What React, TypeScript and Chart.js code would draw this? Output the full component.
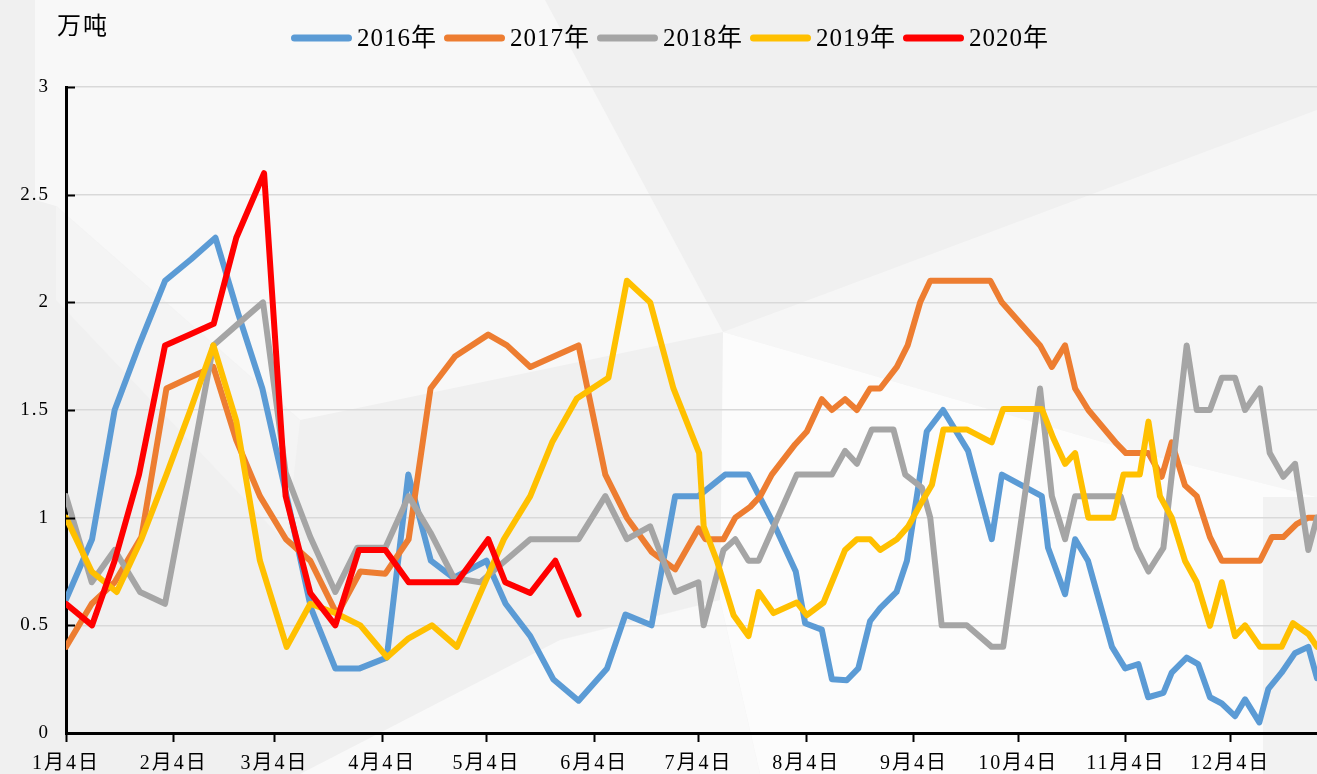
import React, { useEffect, useRef } from "react";
import { Chart, registerables } from "chart.js";

Chart.register(...registerables);

// ---- axis ticks (days counted from 1月4日) ----
const tickDays = [0, 31, 60, 91, 121, 152, 182, 213, 244, 274, 305, 335];
const tickLabels = ["1月4日", "2月4日", "3月4日", "4月4日", "5月4日", "6月4日", "7月4日", "8月4日", "9月4日", "10月4日", "11月4日", "12月4日"];
const yTickValues = [0, 0.5, 1, 1.5, 2, 2.5, 3];
const unitLabel = "万吨";

const seriesNames = ["2016年", "2017年", "2018年", "2019年", "2020年"];
const seriesColors = ["#5B9BD5", "#ED7D31", "#A5A5A5", "#FFC000", "#FF0000"];

// ---- data ----
const days2016 = [0, 7.5, 14, 21, 28.5, 36, 43, 49.5, 56.5, 63.5, 70.5, 77.5, 84.5, 92.3, 98.5, 105, 111.5, 121, 126.5, 133.6, 140.2, 147.5, 155.7, 161, 168.5, 175.3, 182, 189.7, 196.3, 204, 210, 212.7, 217.5, 220.4, 224.7, 228, 231.4, 234.3, 239, 242, 247.7, 252.4, 259.6, 266.4, 269.3, 280.8, 282.6, 287.5, 290.4, 294.1, 301, 304.8, 308.6, 311.4, 315.8, 318.2, 322.5, 325.8, 329.2, 332.6, 336.4, 339.3, 343.4, 346, 349.8, 353.6, 357.5, 360];
const vals2016 = [0.62, 0.9, 1.5, 1.8, 2.1, 2.2, 2.3, 1.95, 1.6, 1.1, 0.58, 0.3, 0.3, 0.35, 1.2, 0.8, 0.72, 0.8, 0.6, 0.45, 0.25, 0.15, 0.3, 0.55, 0.5, 1.1, 1.1, 1.2, 1.2, 0.96, 0.75, 0.51, 0.48, 0.25, 0.245, 0.3, 0.52, 0.58, 0.655, 0.8, 1.4, 1.5, 1.31, 0.9, 1.2, 1.1, 0.86, 0.645, 0.9, 0.8, 0.4, 0.3, 0.32, 0.166, 0.186, 0.28, 0.35, 0.32, 0.166, 0.137, 0.078, 0.156, 0.049, 0.205, 0.28, 0.37, 0.4, 0.254];

const days2017 = [0, 7.4, 14, 21.7, 28.9, 35.5, 42.4, 49, 55.8, 63.3, 70.3, 78, 84.7, 91.9, 98.6, 104.9, 112, 121.5, 126.9, 133.6, 140.5, 147.5, 155.2, 161.4, 168.6, 175.3, 182, 184, 189.2, 192.6, 196.9, 199.8, 203.1, 209.8, 213.2, 217.5, 220.4, 224.2, 227.6, 231.4, 234.3, 239.1, 242.2, 245.8, 248.7, 266, 269.3, 280.3, 283.7, 287.5, 290.4, 294.2, 302, 305, 311.5, 315.3, 318.2, 322, 325.4, 329.2, 332.6, 343.6, 347, 350.3, 354.1, 357.5, 360];
const vals2017 = [0.4, 0.6, 0.7, 0.91, 1.6, 1.65, 1.7, 1.36, 1.1, 0.9, 0.8, 0.55, 0.75, 0.74, 0.9, 1.6, 1.75, 1.85, 1.8, 1.7, 1.75, 1.8, 1.2, 1.0, 0.84, 0.76, 0.95, 0.9, 0.9, 1.0, 1.05, 1.1, 1.2, 1.34, 1.4, 1.55, 1.5, 1.55, 1.5, 1.6, 1.6, 1.7, 1.8, 2.0, 2.1, 2.1, 2.0, 1.8, 1.7, 1.8, 1.6, 1.5, 1.35, 1.3, 1.3, 1.19, 1.35, 1.15, 1.1, 0.91, 0.8, 0.8, 0.91, 0.91, 0.97, 1.0, 1.0];

const days2018 = [0, 7.4, 14, 21.3, 28.5, 35.5, 42.4, 49.5, 56.7, 63.2, 70.3, 77.5, 83.8, 91.9, 98.6, 104.9, 111.6, 119.2, 133.6, 147.5, 155.2, 161.4, 168.1, 175.3, 182, 183.5, 189.2, 192.6, 196.4, 199.3, 210.3, 220.4, 224.2, 227.6, 231.9, 238.1, 241.5, 246.3, 248.7, 252, 259.2, 266.4, 269.7, 280.3, 283.7, 287.5, 290.4, 303.5, 308.1, 311.5, 315.8, 322.5, 325.4, 329.2, 332.6, 336.4, 339.3, 343.6, 346.4, 350.3, 353.7, 357.5, 360];
const vals2018 = [1.1, 0.7, 0.85, 0.655, 0.6, 1.2, 1.8, 1.9, 2.0, 1.21, 0.91, 0.655, 0.86, 0.86, 1.1, 0.93, 0.72, 0.7, 0.9, 0.9, 1.1, 0.9, 0.96, 0.655, 0.7, 0.5, 0.85, 0.9, 0.8, 0.8, 1.2, 1.2, 1.31, 1.25, 1.41, 1.41, 1.2, 1.14, 1.0, 0.5, 0.5, 0.4, 0.4, 1.6, 1.1, 0.9, 1.1, 1.1, 0.86, 0.75, 0.86, 1.8, 1.5, 1.5, 1.65, 1.65, 1.5, 1.6, 1.3, 1.19, 1.25, 0.85, 1.0];

const days2019 = [0, 7.4, 14.6, 21.7, 28.9, 35.8, 42.4, 49, 55.8, 63.5, 70.3, 77.5, 84.7, 92.4, 98.6, 105.3, 112.5, 126, 133.6, 139.9, 147, 156.1, 161.4, 168.1, 174.8, 182.2, 183.5, 187.3, 192.1, 196.4, 199.3, 203.6, 210.3, 213.2, 218, 224.2, 227.6, 231.4, 234.3, 239.1, 242.4, 245.8, 249.2, 252.5, 259.2, 266.4, 269.7, 280.8, 284.1, 287.5, 290.4, 294.2, 301.4, 304.3, 309, 311.5, 314.8, 318.2, 322, 325.4, 329.2, 332.6, 336.4, 339.3, 343.6, 349.8, 353.1, 357.5, 360];
const vals2019 = [1.0, 0.75, 0.655, 0.9, 1.2, 1.5, 1.8, 1.45, 0.8, 0.4, 0.6, 0.557, 0.5, 0.352, 0.44, 0.5, 0.4, 0.9, 1.1, 1.35, 1.553, 1.65, 2.1, 2.0, 1.6, 1.3, 0.96, 0.8, 0.547, 0.45, 0.655, 0.557, 0.606, 0.547, 0.606, 0.85, 0.9, 0.9, 0.85, 0.9, 0.96, 1.06, 1.153, 1.41, 1.41, 1.35, 1.505, 1.505, 1.37, 1.25, 1.3, 1.0, 1.0, 1.2, 1.2, 1.446, 1.1, 1.0, 0.8, 0.7, 0.498, 0.7, 0.45, 0.5, 0.4, 0.4, 0.51, 0.46, 0.4];

const days2020 = [0, 7.5, 14, 21, 28.5, 35.5, 42.5, 49, 57, 63.2, 70.3, 77.5, 84.3, 91.9, 98.6, 105.5, 112.5, 121.5, 126.4, 133.6, 140.8, 147.5];
const vals2020 = [0.6, 0.5, 0.8, 1.2, 1.8, 1.85, 1.9, 2.3, 2.6, 1.1, 0.65, 0.5, 0.85, 0.85, 0.7, 0.7, 0.7, 0.9, 0.7, 0.65, 0.8, 0.55];

const seriesDays = [days2016, days2017, days2018, days2019, days2020];
const seriesVals = [vals2016, vals2017, vals2018, vals2019, vals2020];

const W = 1317;
const H = 774;
const SERIF = '"Liberation Serif", "Noto Sans CJK SC", serif';

const backgroundPlugin = {
  id: "bgShapes",
  beforeDraw(chart: any) {
    const ctx = chart.ctx;
    ctx.save();
    ctx.fillStyle = "#f0f0f0";
    ctx.fillRect(0, 0, W, H);
    const poly = (pts: number[][], color: string) => {
      ctx.beginPath();
      ctx.moveTo(pts[0][0], pts[0][1]);
      for (let i = 1; i < pts.length; i++) ctx.lineTo(pts[i][0], pts[i][1]);
      ctx.closePath();
      ctx.fillStyle = color;
      ctx.fill();
    };
    poly([[35, 0], [545, 0], [723, 332], [300, 420], [56, 206], [35, 200]], "#f8f8f8");
    poly([[56, 206], [300, 420], [286, 543], [56, 300]], "#f4f4f4");
    poly([[723, 332], [1317, 110], [1317, 497], [1130, 450]], "#f6f6f6");
    poly([[723, 332], [1130, 450], [1317, 497], [1317, 774], [760, 774], [720, 600]], "#fcfcfc");
    poly([[1263, 497], [1317, 497], [1317, 774], [1263, 774]], "#f2f2f2");
    poly([[300, 774], [760, 774], [720, 600], [560, 640]], "#f9f9f9");
    ctx.restore();
    // wide glyph spacing like the original font, used by the axis labels
    if ("letterSpacing" in ctx) (ctx as any).letterSpacing = "2px";
  },
};

const decorPlugin = {
  id: "decor",
  afterDraw(chart: any) {
    const ctx = chart.ctx;
    const yScale = chart.scales.y;
    const area = chart.chartArea;
    ctx.save();
    // inward y-axis ticks
    ctx.strokeStyle = "#000";
    ctx.lineWidth = 2;
    yTickValues.forEach((v) => {
      const y = Math.round(yScale.getPixelForValue(v)) + 0.5;
      ctx.beginPath();
      ctx.moveTo(area.left, y);
      ctx.lineTo(area.left + 9, y);
      ctx.stroke();
    });
    // unit label
    if ("letterSpacing" in ctx) (ctx as any).letterSpacing = "2px";
    ctx.fillStyle = "#000";
    ctx.font = '24px "Noto Sans CJK SC"';
    ctx.textBaseline = "middle";
    ctx.textAlign = "left";
    ctx.fillText(unitLabel, 57, 25);
    // legend
    if ("letterSpacing" in ctx) (ctx as any).letterSpacing = "1px";
    ctx.font = "25px " + SERIF;
    const lineLen = 61;
    const gapLineText = 5;
    const gapItems = 7;
    const widths = seriesNames.map((n) => ctx.measureText(n).width);
    const total = widths.reduce((a, w) => a + lineLen + gapLineText + w + gapItems, 0) - gapItems;
    let x = 670 - total / 2;
    const ly = 38;
    seriesNames.forEach((n, i) => {
      ctx.strokeStyle = seriesColors[i];
      ctx.lineWidth = 7;
      ctx.lineCap = "round";
      ctx.beginPath();
      ctx.moveTo(x + 3.5, ly);
      ctx.lineTo(x + lineLen - 3.5, ly);
      ctx.stroke();
      ctx.fillStyle = "#000";
      ctx.textBaseline = "middle";
      ctx.fillText(n, x + lineLen + gapLineText, ly + 1);
      x += lineLen + gapLineText + widths[i] + gapItems;
    });
    ctx.restore();
  },
};

export default function App() {
  const canvasRef = useRef<HTMLCanvasElement | null>(null);

  useEffect(() => {
    if (!canvasRef.current) return;
    const datasets = seriesNames.map((name, i) => ({
      label: name,
      data: seriesDays[i].map((d, k) => ({ x: d, y: seriesVals[i][k] })),
      borderColor: seriesColors[i],
      backgroundColor: seriesColors[i],
      borderWidth: 6,
      pointRadius: 0,
      pointHoverRadius: 0,
      tension: 0,
      fill: false,
      borderJoinStyle: "round" as const,
      borderCapStyle: "round" as const,
      order: seriesNames.length - 1 - i,
    }));

    const chart = new Chart(canvasRef.current, {
      type: "line",
      data: { datasets },
      options: {
        responsive: false,
        animation: false,
        devicePixelRatio: 1,
        layout: { padding: { top: 87, right: 0, bottom: 0, left: 0 } },
        plugins: {
          legend: { display: false },
          title: { display: false },
          tooltip: { enabled: false },
        },
        scales: {
          x: {
            type: "linear",
            min: 0,
            max: 360,
            afterBuildTicks: (axis: any) => {
              axis.ticks = tickDays.map((v) => ({ value: v }));
            },
            afterFit: (axis: any) => {
              axis.height = H - 733;
            },
            ticks: {
              autoSkip: false,
              maxRotation: 0,
              minRotation: 0,
              padding: 10,
              color: "#000",
              font: { family: SERIF, size: 20 },
              callback: (value: any) => {
                const idx = tickDays.indexOf(Number(value));
                return idx >= 0 ? tickLabels[idx] : "";
              },
            },
            grid: {
              drawOnChartArea: false,
              drawTicks: true,
              tickLength: 9,
              tickColor: "#000",
              tickWidth: 2,
            },
            border: { display: true, color: "#000", width: 3 },
          },
          y: {
            type: "linear",
            min: 0,
            max: 3,
            afterBuildTicks: (axis: any) => {
              axis.ticks = yTickValues.map((v) => ({ value: v }));
            },
            afterFit: (axis: any) => {
              axis.width = 66;
            },
            ticks: {
              padding: 16,
              color: "#000",
              font: { family: SERIF, size: 19 },
              callback: (value: any) => String(value),
            },
            grid: {
              color: "#d9d9d9",
              lineWidth: 1.5,
              drawTicks: false,
            },
            border: { display: true, color: "#000", width: 3 },
          },
        },
      },
      plugins: [backgroundPlugin, decorPlugin],
    } as any);

    return () => chart.destroy();
  }, []);

  return (
    <div style={{ position: "fixed", left: 0, top: 0, width: W, height: H }}>
      <canvas ref={canvasRef} width={W} height={H} style={{ display: "block" }} />
    </div>
  );
}
